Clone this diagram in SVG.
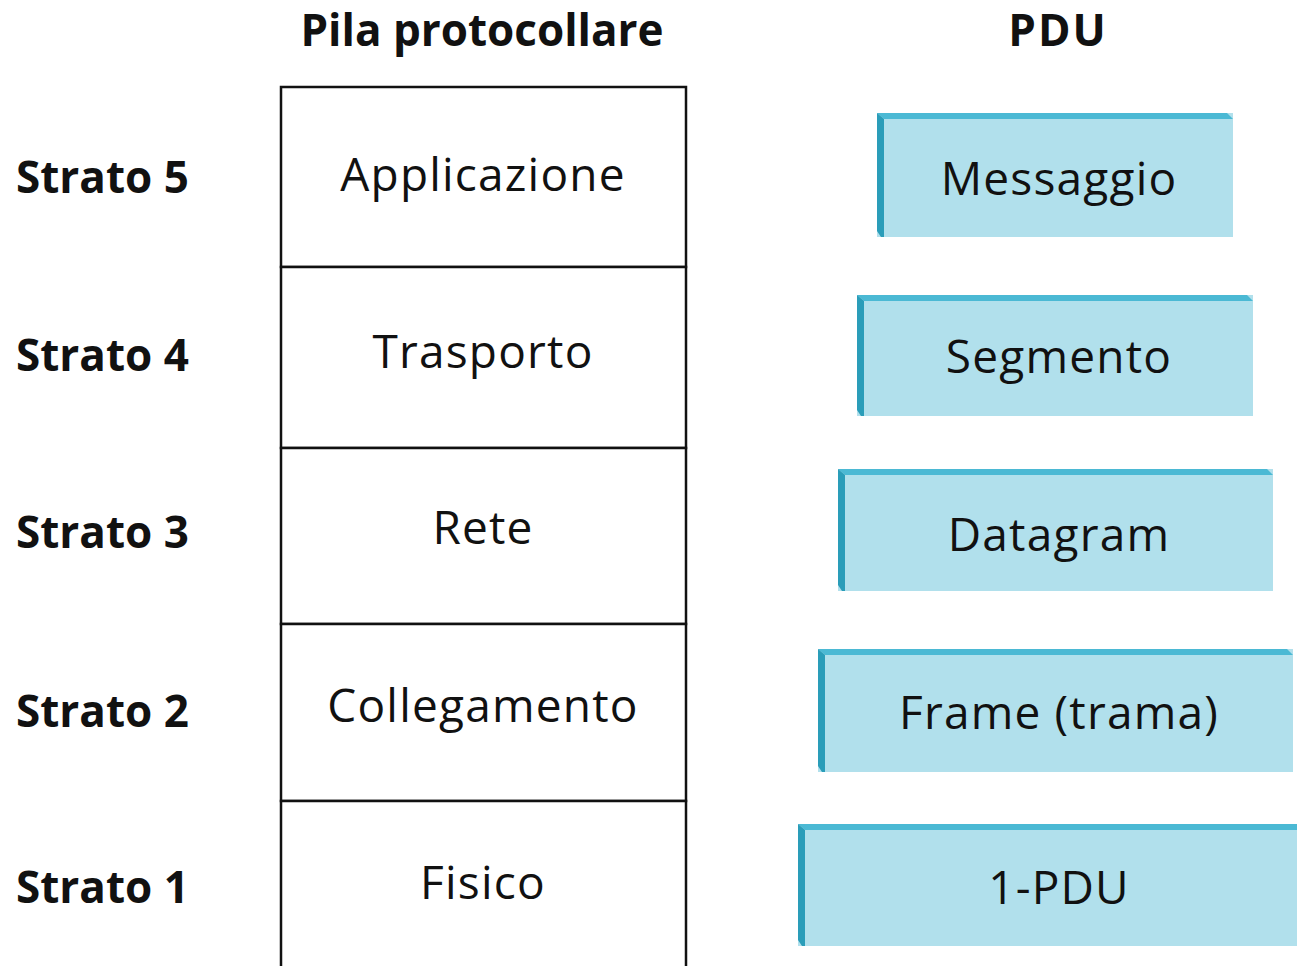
<svg xmlns="http://www.w3.org/2000/svg" width="1297" height="966" viewBox="0 0 1297 966">
<style>
text{font-family:"Open Sans","Liberation Sans",sans-serif;fill:#111;}
.t{font-size:44px;font-weight:bold;text-anchor:middle;}
.s{font-size:44px;font-weight:bold;}
.l{font-size:46px;text-anchor:middle;letter-spacing:1.2px;}
.layer{fill:#fff;stroke:#111;stroke-width:2.5;}
.face{fill:#b1e0ec;}
.top{fill:#4bb9d4;}
.side{fill:#2a9db9;}
</style>
<rect width="1297" height="966" fill="#fff"/>
<text class="t" x="482" y="46">Pila protocollare</text>
<text class="t" x="1058" y="46" style="letter-spacing:2px">PDU</text>
<g id="labels">
<text class="s" x="16" y="193">Strato 5</text>
<text class="s" x="16" y="371">Strato 4</text>
<text class="s" x="16" y="548">Strato 3</text>
<text class="s" x="16" y="727">Strato 2</text>
<text class="s" x="16" y="903">Strato 1</text>
</g>
<g id="stack">
<g id="l5"><rect class="layer" x="281" y="87" width="405" height="180"/><text class="l" x="483" y="191">Applicazione</text></g>
<g id="l4"><rect class="layer" x="281" y="267" width="405" height="181"/><text class="l" x="483" y="368">Trasporto</text></g>
<g id="l3"><rect class="layer" x="281" y="448" width="405" height="176"/><text class="l" x="483" y="544">Rete</text></g>
<g id="l2"><rect class="layer" x="281" y="624" width="405" height="177"/><text class="l" x="483" y="722">Collegamento</text></g>
<g id="l1"><rect class="layer" x="281" y="801" width="405" height="170"/><text class="l" x="483" y="899">Fisico</text></g>
</g>
<g id="pdu5">
<rect class="face" x="877" y="113" width="356" height="124"/>
<polygon class="top" points="877,113 1227,113 1233,119 884,119"/>
<polygon class="side" points="877,113 884,119 884,237 881,237 877,231"/>
<text class="l" x="1059" y="195">Messaggio</text>
</g>
<g id="pdu4">
<rect class="face" x="857" y="295" width="396" height="121"/>
<polygon class="top" points="857,295 1247,295 1253,301 864,301"/>
<polygon class="side" points="857,295 864,301 864,416 861,416 857,410"/>
<text class="l" x="1059" y="373">Segmento</text>
</g>
<g id="pdu3">
<rect class="face" x="838" y="469" width="435" height="122"/>
<polygon class="top" points="838,469 1267,469 1273,475 845,475"/>
<polygon class="side" points="838,469 845,475 845,591 842,591 838,585"/>
<text class="l" x="1059" y="551">Datagram</text>
</g>
<g id="pdu2">
<rect class="face" x="818" y="649" width="475" height="123"/>
<polygon class="top" points="818,649 1287,649 1293,655 825,655"/>
<polygon class="side" points="818,649 825,655 825,772 822,772 818,766"/>
<text class="l" x="1059" y="729">Frame (trama)</text>
</g>
<g id="pdu1">
<rect class="face" x="798" y="824" width="499" height="122"/>
<polygon class="top" points="798,824 1297,824 1297,830 805,830"/>
<polygon class="side" points="798,824 805,830 805,946 802,946 798,940"/>
<text class="l" x="1059" y="904">1-PDU</text>
</g>
</svg>
